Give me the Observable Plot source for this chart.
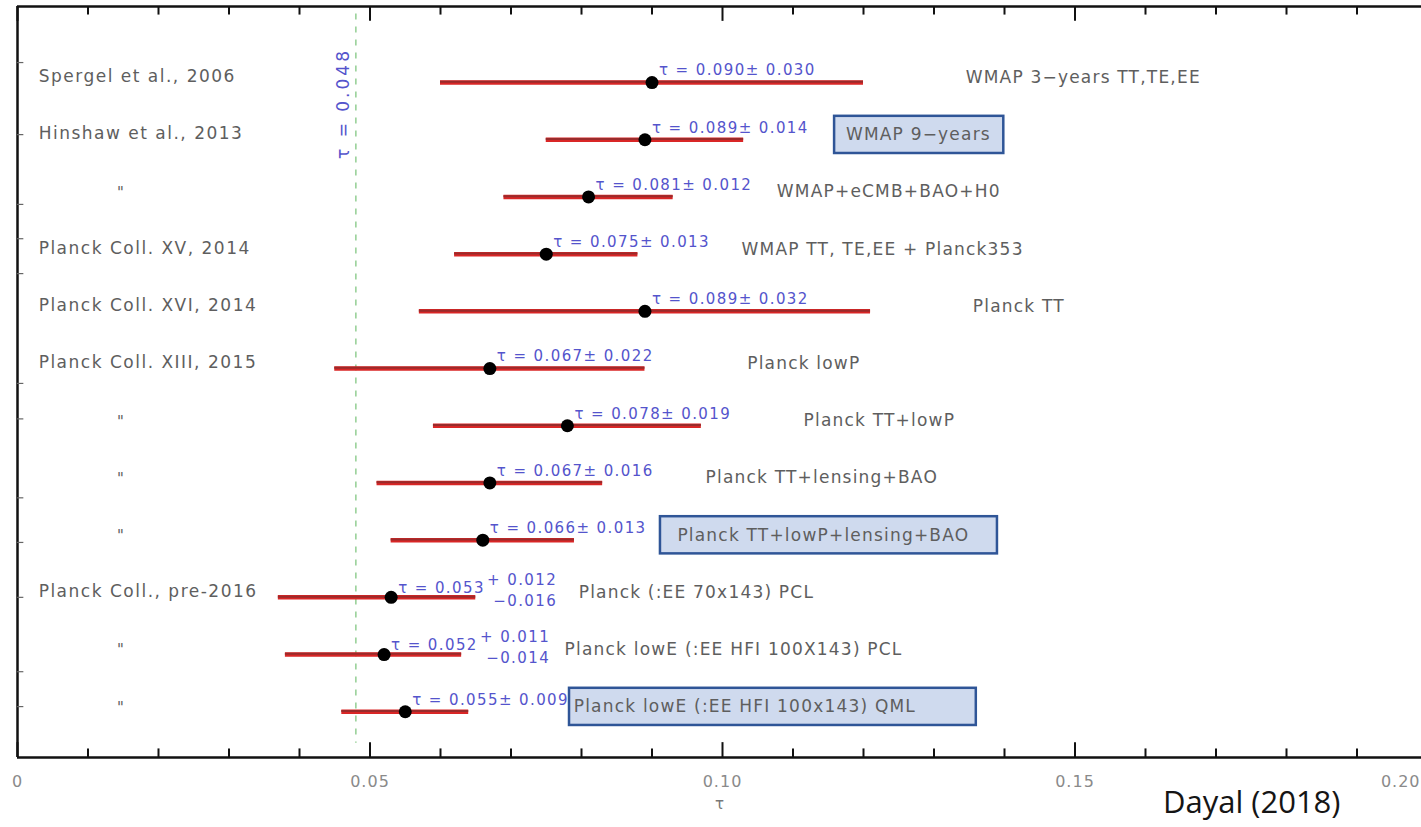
<!DOCTYPE html>
<html>
<head>
<meta charset="utf-8">
<script src="https://cdn.jsdelivr.net/npm/d3@7"></script>
<script src="https://cdn.jsdelivr.net/npm/@observablehq/plot@0.6"></script>
<style>
  body { margin: 0; background: #fff; }
  #chart svg { display: block; }
  [aria-description="ref-labels"] { letter-spacing: 1.5px; }
  [aria-description="desc-labels"] { letter-spacing: 1.2px; }
  [aria-description="annotations"], [aria-description="annotations-asym"], [aria-description="annotations-pm"] { letter-spacing: 1.4px; }
  [aria-description="tau-ref-label"] { letter-spacing: 3px; }
  [aria-description="tick-labels"] { letter-spacing: 1px; }
</style>
</head>
<body>
<div id="chart"></div>
<script>
// ---------- data ----------
const references = [
  "Spergel et al., 2006", "Hinshaw et al., 2013", "\"", "Planck Coll. XV, 2014",
  "Planck Coll. XVI, 2014", "Planck Coll. XIII, 2015", "\"", "\"", "\"",
  "Planck Coll., pre-2016", "\"", "\""
];
const datasets = [
  "WMAP 3\u2212years TT,TE,EE", "WMAP 9\u2212years", "WMAP+eCMB+BAO+H0",
  "WMAP TT, TE,EE + Planck353", "Planck TT", "Planck lowP", "Planck TT+lowP",
  "Planck TT+lensing+BAO", "Planck TT+lowP+lensing+BAO", "Planck (:EE 70x143) PCL",
  "Planck lowE (:EE HFI 100X143) PCL", "Planck lowE (:EE HFI 100x143) QML"
];
const tauValues = [0.090, 0.089, 0.081, 0.075, 0.089, 0.067, 0.078, 0.067, 0.066, 0.053, 0.052, 0.055];
const errPlus   = [0.030, 0.014, 0.012, 0.013, 0.032, 0.022, 0.019, 0.016, 0.013, 0.012, 0.011, 0.009];
const errMinus  = [0.030, 0.014, 0.012, 0.013, 0.032, 0.022, 0.019, 0.016, 0.013, 0.016, 0.014, 0.009];
const highlighted = [false, true, false, false, false, false, false, false, true, false, false, true];
const tauReference = 0.048;

const majorTicks = [0, 0.05, 0.10, 0.15, 0.20];
const majorTickLabels = ["0", "0.05", "0.10", "0.15", "0.20"];
const minorTicks = [0.01, 0.02, 0.03, 0.04, 0.06, 0.07, 0.08, 0.09, 0.11, 0.12, 0.13, 0.14, 0.16, 0.17, 0.18, 0.19];
const leftTicks = [0.65, 1.91, 3.13, 3.73, 4.34, 6.26, 6.88, 8.26, 9.04, 10.0, 11.3, 11.91];

// ---------- label layout (tau where each dataset label starts; highlight box spans) ----------
const descStart = [0.1345, 0.1175, 0.1077, 0.1027, 0.1355, 0.1035, 0.1115, 0.0976, 0.0936, 0.0796, 0.0776, 0.0789];
const boxSpan = [null, [0.1159, 0.1399], null, null, null, null, null, null, [0.0912, 0.1390], null, null, [0.0783, 0.1360]];

// ---------- build table ----------
const rows = tauValues.map((t, i) => ({
  row: i + 1,
  tau: t,
  lo: t - errMinus[i],
  hi: t + errPlus[i],
  ref: references[i],
  desc: datasets[i],
  hl: highlighted[i],
  sym: errPlus[i] === errMinus[i],
  plus: errPlus[i],
  minus: errMinus[i],
  descX: descStart[i],
  box: highlighted[i] ? boxSpan[i] : null
}));

const Y_TOP = -0.33, Y_BOT = 12.8;
const fmt = v => v.toFixed(3);
const blue = "#5454cc";
const gray = "#5e5e5e";
const lastTick = majorTicks.length - 1;

const plot = Plot.plot({
  width: 1421,
  height: 827,
  marginTop: 6,
  marginBottom: 70,
  marginLeft: 17,
  marginRight: 0,
  style: { fontFamily: "DejaVu Sans, sans-serif", background: "white" },
  x: { domain: [0, 0.2], range: [17, 1427], axis: null },
  y: { domain: [Y_TOP, Y_BOT], range: [6, 757], axis: null },
  marks: [
    // highlight boxes
    Plot.rect(rows.filter(d => d.box), {
      x1: d => d.box[0], x2: d => d.box[1],
      y1: d => d.row - 0.41, y2: d => d.row + 0.24,
      fill: "#cfdaee", stroke: "#2f5597", strokeWidth: 2.5
    }),
    // reference tau line
    Plot.ruleX([tauReference], { x: d => d, y1: -0.2, y2: 12.55, stroke: "#6cbc6c", strokeDasharray: "6,7", strokeWidth: 1.1 }),
    Plot.text([tauReference], {
      x: d => d, frameAnchor: "top", dy: 97, dx: -19, rotate: -90,
      text: d => `\u03C4 = ${fmt(d)}`, fill: blue, fontSize: 17, ariaDescription: "tau-ref-label"
    }),
    // error bars
    Plot.ruleY(rows, { y: "row", x1: "lo", x2: "hi", stroke: "#d92626", strokeWidth: 4.5 }),
    Plot.ruleY(rows, { y: "row", x1: "lo", x2: "hi", stroke: "#9a2b2b", strokeWidth: 2, dy: -0.7 }),
    Plot.dot(rows, { x: "tau", y: "row", r: 6.5, fill: "black" }),
    // annotations
    Plot.text(rows.filter(d => d.sym), {
      x: "tau", y: "row", dx: 7, dy: -12, textAnchor: "start",
      text: d => `\u03C4 = ${fmt(d.tau)}\u00B1 ${fmt(d.plus)}`,
      fill: blue, fontSize: 15, ariaDescription: "annotations"
    }),
    Plot.text(rows.filter(d => !d.sym), {
      x: "tau", y: "row", dx: 7, dy: -9, textAnchor: "start",
      text: d => `\u03C4 = ${fmt(d.tau)}`,
      fill: blue, fontSize: 15, ariaDescription: "annotations-asym"
    }),
    Plot.text(rows.filter(d => !d.sym), {
      x: "tau", y: "row", dx: 166, dy: -9, textAnchor: "end", lineHeight: 1.4,
      text: d => `+ ${fmt(d.plus)}\n\u2212${fmt(d.minus)}`,
      fill: blue, fontSize: 15, ariaDescription: "annotations-pm"
    }),
    // dataset labels
    Plot.text(rows, {
      x: "descX", y: "row", dy: -5, textAnchor: "start", text: "desc",
      fill: gray, fontSize: 17, ariaDescription: "desc-labels"
    }),
    // reference labels
    Plot.text(rows.filter(d => d.ref !== "\""), {
      x: 0.003, y: "row", dy: -6, textAnchor: "start", text: "ref",
      fill: gray, fontSize: 17, ariaDescription: "ref-labels"
    }),
    Plot.text(rows.filter(d => d.ref === "\""), {
      x: 0.0146, y: "row", dy: -4, textAnchor: "middle", text: "ref",
      fill: gray, fontSize: 15
    }),
    // frame (top, bottom, left)
    Plot.ruleY([Y_TOP, Y_BOT], { y: d => d, x1: 0, x2: 0.2, stroke: "#111", strokeWidth: 2.5 }),
    Plot.ruleX([0], { x: d => d, y1: Y_TOP, y2: Y_BOT, stroke: "#111", strokeWidth: 2.5 }),
    // bottom ticks
    Plot.ruleX(majorTicks, { x: d => d, y1: Y_BOT, y2: Y_BOT - 0.26, stroke: "#111", strokeWidth: 2 }),
    Plot.ruleX(minorTicks, { x: d => d, y1: Y_BOT, y2: Y_BOT - 0.15, stroke: "#111", strokeWidth: 2 }),
    // top ticks
    Plot.ruleX(majorTicks, { x: d => d, y1: Y_TOP, y2: Y_TOP + 0.26, stroke: "#111", strokeWidth: 2 }),
    Plot.ruleX(minorTicks, { x: d => d, y1: Y_TOP, y2: Y_TOP + 0.15, stroke: "#111", strokeWidth: 2 }),
    // left ticks
    Plot.ruleY(leftTicks, { y: d => d, x1: 0, x2: 0.0009, stroke: "#666", strokeWidth: 1.2 }),
    // tick labels
    Plot.text(majorTicks.slice(0, lastTick), {
      x: d => d, frameAnchor: "bottom", dy: 29,
      text: (d, i) => majorTickLabels[i], fill: "#8a8a8a", fontSize: 16, ariaDescription: "tick-labels"
    }),
    Plot.text([majorTicks[lastTick]], {
      x: d => d, frameAnchor: "bottom", dy: 29, dx: -7, textAnchor: "end",
      text: () => majorTickLabels[lastTick], fill: "#8a8a8a", fontSize: 16, ariaDescription: "tick-labels"
    }),
    Plot.text(["\u03C4"], { text: d => d, frameAnchor: "bottom", dy: 51, fill: "#777", fontSize: 15 }),
    // caption
    Plot.text(["Dayal (2018)"], {
      text: d => d, frameAnchor: "bottom-right", textAnchor: "end", dx: -81, dy: 55,
      fontFamily: "Open Sans, sans-serif", fontSize: 31, fill: "#151515"
    })
  ]
});

document.getElementById("chart").appendChild(plot);
</script>
</body>
</html>
